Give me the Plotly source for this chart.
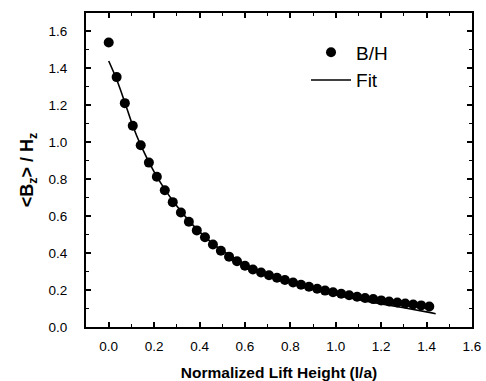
import plotly.graph_objects as go

# Data
lift_height = [0.000, 0.035, 0.071, 0.106, 0.141, 0.177, 0.212, 0.247, 0.282, 0.318,
               0.353, 0.388, 0.424, 0.459, 0.494, 0.530, 0.565, 0.600, 0.635, 0.671,
               0.706, 0.741, 0.776, 0.812, 0.847, 0.882, 0.918, 0.953, 0.988, 1.024,
               1.059, 1.094, 1.129, 1.165, 1.200, 1.235, 1.271, 1.306, 1.341, 1.376, 1.412]
bh_ratio = [1.540, 1.353, 1.212, 1.090, 0.984, 0.890, 0.813, 0.740, 0.676, 0.620,
            0.570, 0.523, 0.486, 0.447, 0.413, 0.381, 0.356, 0.332, 0.311, 0.295,
            0.280, 0.267, 0.254, 0.241, 0.229, 0.218, 0.207, 0.197, 0.188, 0.180,
            0.172, 0.164, 0.157, 0.151, 0.144, 0.138, 0.133, 0.127, 0.122, 0.117, 0.111]

fit_x = [0.00, 0.035, 0.07, 0.106, 0.141, 0.20, 0.25, 0.30, 0.35, 0.40, 0.45, 0.50,
         0.60, 0.70, 0.80, 0.90, 1.00, 1.10, 1.20, 1.30, 1.40, 1.44]
fit_y = [1.44, 1.34, 1.22, 1.09, 0.985, 0.84, 0.74, 0.655, 0.58, 0.515, 0.46, 0.415,
         0.34, 0.285, 0.24, 0.205, 0.175, 0.148, 0.125, 0.104, 0.082, 0.072]

x_ticks = [0.0, 0.2, 0.4, 0.6, 0.8, 1.0, 1.2, 1.4, 1.6]
y_ticks = [0.0, 0.2, 0.4, 0.6, 0.8, 1.0, 1.2, 1.4, 1.6]

fig = go.Figure()
fig.add_trace(go.Scatter(x=lift_height, y=bh_ratio, mode="markers", name="B/H",
                         marker=dict(color="black", size=10, symbol="circle")))
fig.add_trace(go.Scatter(x=fit_x, y=fit_y, mode="lines", name="Fit",
                         line=dict(color="black", width=1.6, shape="spline")))

font_family = "Liberation Sans, Arial, sans-serif"
axis_common = dict(showline=True, linecolor="black", linewidth=2, mirror="allticks",
                   ticks="inside", ticklen=5, tickwidth=1.5, tickcolor="black",
                   showgrid=False, zeroline=False, automargin=False,
                   tickfont=dict(family=font_family, size=13.5, color="black"),
                   minor=dict(ticks="inside", ticklen=3, tickwidth=1.2, tickcolor="black", dtick=0.1))

fig.update_xaxes(range=[-0.1, 1.6], tickvals=x_ticks, ticktext=[f"{v:.1f}" for v in x_ticks],
                 title=dict(text="<b>Normalized Lift Height (l/a)</b>",
                            font=dict(family=font_family, size=15.5, color="black"), standoff=14),
                 ticklabelstandoff=6,
                 **axis_common)
fig.update_yaxes(range=[0, 1.7], tickvals=y_ticks, ticktext=[f"{v:.1f}" for v in y_ticks],
                 title=dict(text="<b>&lt;B<sub>z</sub>&gt; / H<sub>z</sub></b>",
                            font=dict(family=font_family, size=18, color="black"), standoff=10),
                 ticklabelstandoff=14,
                 **axis_common)

fig.update_layout(
    width=486, height=381,
    margin=dict(l=86, r=14, t=13, b=54),
    paper_bgcolor="white", plot_bgcolor="white",
    showlegend=True,
    legend=dict(x=0.57, y=0.935, xanchor="left", yanchor="top",
                bgcolor="rgba(0,0,0,0)", borderwidth=0,
                font=dict(family=font_family, size=19, color="black"),
                itemwidth=40),
)

fig.write_html("out.html")
